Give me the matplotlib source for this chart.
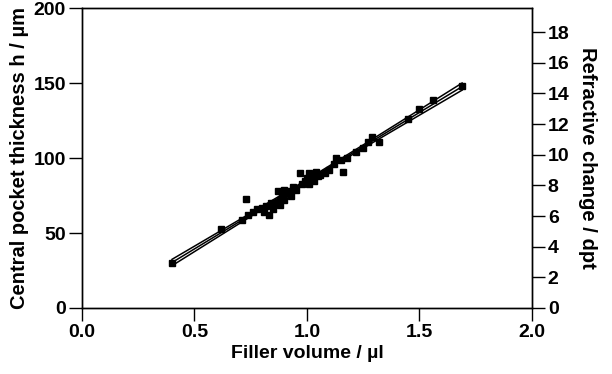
import matplotlib.pyplot as plt
import numpy as np

plt.rcParams['font.family'] = ['Liberation Sans', 'DejaVu Sans']
plt.rcParams['font.weight'] = 'bold'

# filler volume (ul) vs central pocket thickness (um)
volume = [0.40, 0.62, 0.71, 0.73, 0.74, 0.76, 0.78, 0.80, 0.81, 0.82, 0.83, 0.84, 0.85,
          0.86, 0.87, 0.88, 0.88, 0.89, 0.90, 0.90, 0.91, 0.92, 0.93, 0.94, 0.95, 0.97,
          0.98, 0.99, 1.00, 1.01, 1.01, 1.02, 1.03, 1.04, 1.05, 1.06, 1.08, 1.10, 1.12,
          1.13, 1.15, 1.16, 1.18, 1.22, 1.25, 1.27, 1.29, 1.32, 1.45, 1.50, 1.56, 1.69]
thickness = [30, 53, 59, 73, 62, 64, 66, 67, 64, 68, 62, 70, 66,
             70, 78, 72, 69, 75, 79, 72, 77, 78, 75, 81, 79, 90,
             83, 85, 87, 90, 83, 86, 85, 91, 88, 89, 90, 92, 96,
             100, 99, 91, 100, 104, 107, 111, 114, 111, 126, 133, 139, 148]

xticks = [0.0, 0.5, 1.0, 1.5, 2.0]
yticks = [0, 50, 100, 150, 200]
rticks = [0, 2, 4, 6, 8, 10, 12, 14, 16, 18]

x = np.array(volume)
y = np.array(thickness)
slope, icpt = np.polyfit(x, y, 1)
xs = np.linspace(x.min(), x.max(), 100)
fit = slope * xs + icpt
res = y - (slope * x + icpt)
s = np.sqrt(np.sum(res ** 2) / (len(x) - 2))
band = 1.6 * s * np.sqrt(1 / len(x) + (xs - x.mean()) ** 2 / np.sum((x - x.mean()) ** 2))

fig = plt.figure(figsize=(6.12, 3.74), dpi=100)
ax = fig.add_axes([0.134, 0.1765, 0.735, 0.802])

ax.plot(xs, fit, color='black', lw=1.1)
ax.plot(xs, fit + band, color='black', lw=1.1)
ax.plot(xs, fit - band, color='black', lw=1.1)
ax.plot(x, y, 's', color='black', markersize=4.5, linestyle='none')

ax.set_xlim(0, 2)
ax.set_ylim(0, 200)
ax.set_xticks(xticks)
ax.set_xticklabels(['%.1f' % v for v in xticks])
ax.set_yticks(yticks)
ax.set_xlabel('Filler volume / µl', fontsize=14, fontweight='bold', labelpad=3)
ax.set_ylabel('Central pocket thickness h / µm', fontsize=14.5, fontweight='bold', labelpad=3)
ax.tick_params(direction='out', length=9.5, width=1.0, labelsize=14, pad=2)
for sp in ax.spines.values():
    sp.set_linewidth(1.0)

ax2 = ax.twinx()
ax2.set_ylim(0, 19.57)
ax2.set_yticks(rticks)
ax2.set_ylabel('Refractive change / dpt', fontsize=14.5, fontweight='bold', rotation=270, labelpad=20)
ax2.tick_params(direction='out', length=9.5, width=1.0, labelsize=14, pad=2)
for sp in ax2.spines.values():
    sp.set_linewidth(1.0)

fig.savefig('out.png', dpi=100)
